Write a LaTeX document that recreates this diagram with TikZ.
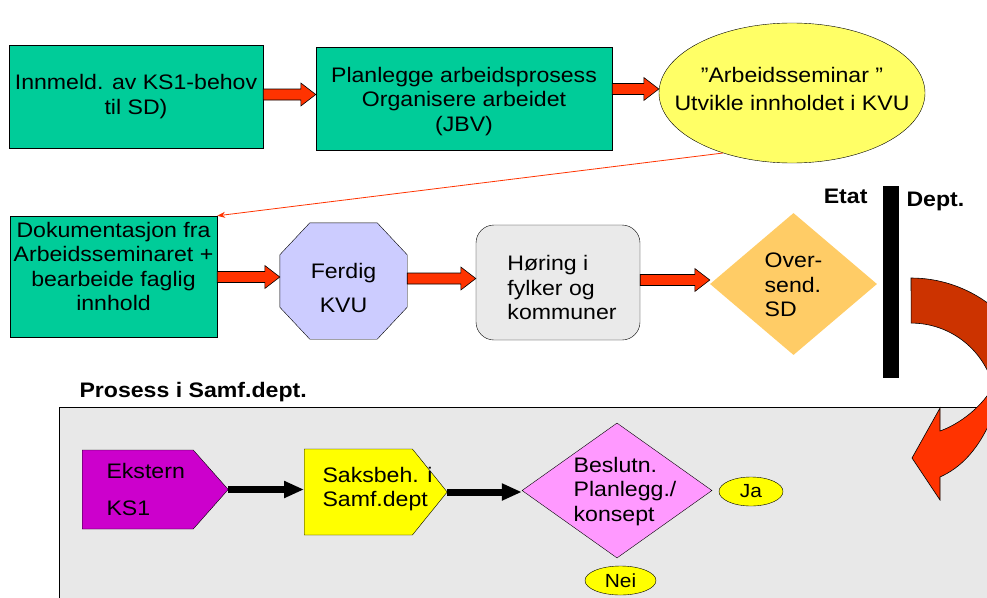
\documentclass[tikz,border=0pt]{standalone}
\usepackage{fontspec}
\setmainfont{Liberation Sans}[FakeStretch=1.1]
\usetikzlibrary{shapes,arrows.meta,calc}

\definecolor{boxgreen}{HTML}{00CC99}
\definecolor{seminaryellow}{HTML}{FFFF66}
\definecolor{kvublue}{HTML}{CCCCFF}
\definecolor{horinggray}{HTML}{EAEAEA}
\definecolor{sendorange}{HTML}{FFCC66}
\definecolor{arrowred}{HTML}{FF3300}
\definecolor{darkred}{HTML}{CC3300}
\definecolor{eksternmagenta}{HTML}{CC00CC}
\definecolor{saksyellow}{HTML}{FFFF00}
\definecolor{beslutnpink}{HTML}{FF99FF}
\definecolor{samfgray}{HTML}{E8E8E8}

\begin{document}
\begin{tikzpicture}[x=1pt,y=1pt]
        \tikzstyle{every node}=[font=\fontsize{21}{24.5}\selectfont]
        \tikzstyle{greenbox}=[draw,fill=boxgreen,inner sep=2pt,align=center]
        \tikzstyle{heading}=[font=\fontsize{21}{24}\selectfont\bfseries]
        \tikzstyle{blockarrow}=[fill=arrowred,draw=black,line width=0.6pt]
        \tikzstyle{blackarrow}=[line width=7pt,-{Triangle[length=20pt,width=16pt]}]
        \tikzstyle{thinred}=[draw=arrowred,line width=0.8pt,-{Stealth[length=8pt,width=6pt]}]
        \tikzstyle{tag}=[ellipse,draw,fill=saksyellow,inner sep=0pt,font=\fontsize{19}{20}\selectfont]

        \useasboundingbox (0,0) rectangle (987,-597);
        \clip (0,0) rectangle (987,-597);

        % Etat
        \node[greenbox,minimum width=254,minimum height=103] (innmeld) at (136,-96.5) {Innmeld. av KS1-behov\\til SD)};
        \node[greenbox,minimum width=296,minimum height=103] (planlegge) at (464,-98.5) {};
        \node[align=center,inner sep=0pt] (planlegge_label) at ([yshift=-3]planlegge.center) {Planlegge arbeidsprosess\\Organisere arbeidet\\(JBV)};
        \node[ellipse,draw,fill=seminaryellow,minimum width=266,minimum height=140,inner sep=0pt] (seminar) at (792,-93) {};
        \node[align=center] (seminar_label) at ([yshift=4]seminar.center) {”Arbeidsseminar ”\\[3.5pt]Utvikle innholdet i KVU};

        \node[greenbox,minimum width=207,minimum height=121] (dok) at (113.5,-276.5) {};
        \node[align=center,inner sep=0pt] (dok_label) at ([yshift=10]dok.center) {Dokumentasjon fra\\Arbeidsseminaret +\\bearbeide faglig\\innhold};
        \node[minimum width=127,minimum height=116,inner sep=0pt] (kvu) at (343.5,-281) {};
        \draw[fill=kvublue] ([xshift=30]kvu.north west) -- ([xshift=-30]kvu.north east) -- ([yshift=-32]kvu.north east)
            -- ([yshift=32]kvu.south east) -- ([xshift=-30]kvu.south east) -- ([xshift=30]kvu.south west)
            -- ([yshift=32]kvu.south west) -- ([yshift=-32]kvu.north west) -- cycle;
        \node[align=center] (kvu_label) at ([yshift=-7]kvu.center) {Ferdig\\[10pt]KVU};
        \node[draw,fill=horinggray,rounded corners=18pt,minimum width=164,minimum height=115] (horing) at (558,-282.5) {};
        \node[align=left,inner sep=0pt] (horing_label) at ([xshift=4,yshift=-5]horing.center) {Høring i\\fylker og\\kommuner};
        \node[diamond,fill=sendorange,minimum width=167,minimum height=142,inner sep=0pt] (oversend) at (793.5,-284) {};
        \node[align=left] (oversend_label) at ([yshift=-1]oversend.center) {Over-\\send.\\SD};

        \draw[thinred] (seminar.221) -- (dok.north east);
        \foreach \a/\b in {innmeld/planlegge,planlegge/seminar,dok/kvu,kvu/horing,horing/oversend}
            \draw[blockarrow] let \p1=(\a.east), \p2=([yshift=4]\b.west) in
                (\x1,\y2+5.5pt) -- (\x2-15pt,\y2+5.5pt) -- (\x2-15pt,\y2+11.5pt) -- (\p2)
                -- (\x2-15pt,\y2-11.5pt) -- (\x2-15pt,\y2-5.5pt) -- (\x1,\y2-5.5pt) -- cycle;

        % grense
        \node[fill=black,minimum width=16,minimum height=192,inner sep=0pt] (bar) at (891,-282) {};
        \node[heading,anchor=base east] (etat) at (871,-203) {Etat};
        \node[heading,anchor=base west] (dept) at (903,-206) {Dept.};

        % Samf.dept.
        \node[draw,fill=samfgray,line width=0.8pt,minimum width=941,minimum height=203,anchor=north west,inner sep=0pt] (samf) at (59,-407) {};
        \node[heading,anchor=base west] (samf_title) at (76,-397) {Prosess i Samf.dept.};

        \draw[fill=darkred,line width=0.6pt] (911,-278) arc[start angle=90,end angle=20,radius=130pt]
            -- (991,-379) arc[start angle=20,end angle=90,radius=85pt] -- cycle;
        \draw[fill=arrowred,line width=0.6pt] (995,-382) .. controls (988,-400) and (965,-422) .. (940,-431)
            -- (940,-408) -- (912,-458) -- (940,-500) -- (940,-477)
            .. controls (960,-468) and (980,-450) .. (995,-410) -- (1040,-368) -- cycle;

        \node[signal,signal to=east,signal pointer angle=97,draw,fill=eksternmagenta,minimum width=146,minimum height=79,inner sep=0pt,anchor=west] (ekstern) at (82,-489.5) {};
        \node[align=left,anchor=west] (ekstern_label) at ([xshift=21]ekstern.west) {Ekstern\\[12pt]KS1};
        \node[signal,signal to=east,signal pointer angle=102,draw,fill=saksyellow,minimum width=143,minimum height=86,inner sep=0pt,anchor=west] (saksbeh) at (304,-492) {};
        \node[align=left,anchor=west] (saksbeh_label) at ([xshift=15,yshift=3]saksbeh.west) {Saksbeh. i\\Samf.dept};
        \node[diamond,draw,fill=beslutnpink,minimum width=190,minimum height=135,inner sep=0pt] (beslutn) at (617,-490.5) {};
        \node[align=left] (beslutn_label) at ([xshift=8,yshift=-1]beslutn.center) {Beslutn.\\Planlegg./\\konsept};
        \node[tag,minimum width=64,minimum height=29] (ja) at (751,-491.5) {Ja};
        \node[tag,minimum width=71,minimum height=29] (nei) at (620.5,-580.5) {Nei};

        \draw[blackarrow] (ekstern.east) -- (ekstern.east -| saksbeh.west);
        \draw[blackarrow] (saksbeh.east) -- (saksbeh.east -| beslutn.west);
\end{tikzpicture}
\end{document}
